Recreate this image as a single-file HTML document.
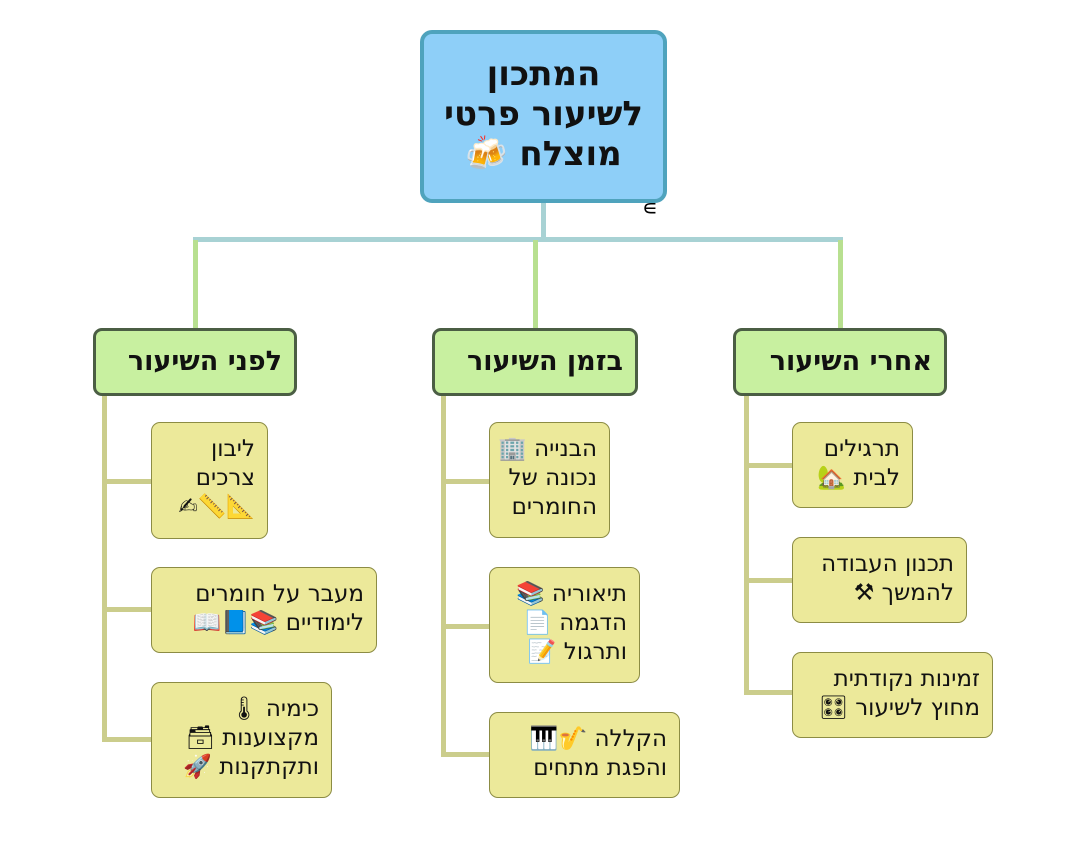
<!DOCTYPE html>
<html><head><meta charset="utf-8"><style>
body{margin:0;width:1080px;height:844px;background:#fff;position:relative;overflow:hidden;font-family:"DejaVu Sans","Liberation Sans",sans-serif}
.b{position:absolute;box-sizing:border-box;direction:rtl;white-space:nowrap}
.root{left:420px;top:30px;width:247px;height:173px;background:#8ecff8;border:4px solid #4fa3bd;border-radius:12px;font-size:34px;font-weight:bold;text-align:center;line-height:40px;padding-top:20px;color:#111}
.l1{top:328px;height:68px;background:#c8f0a0;border:3px solid #4b5e44;border-radius:9px;font-size:27px;font-weight:bold;line-height:62px;text-align:right;padding-right:12px;color:#111}
.c{background:#ece99a;border:1.5px solid #8c8c44;border-radius:9px;font-size:23px;line-height:29px;text-align:right;padding-right:12px;padding-top:12px;color:#111}
.ln{position:absolute}
</style></head><body>
<div class="ln" style="left:541px;top:203px;width:5px;height:38px;background:#a8d2d4"></div>
<div class="ln" style="left:193px;top:237px;width:650px;height:5px;background:#a8d2d4"></div>
<div class="ln" style="left:193px;top:240px;width:5px;height:88px;background:#b8e090"></div>
<div class="ln" style="left:533px;top:240px;width:5px;height:88px;background:#b8e090"></div>
<div class="ln" style="left:838px;top:240px;width:5px;height:88px;background:#b8e090"></div>
<div style="position:absolute;left:642px;top:196px;font-size:22px">&#8714;</div>

<div class="b root">המתכון<br>לשיעור פרטי<br>מוצלח 🍻</div>

<div class="b l1" style="left:93px;width:204px">לפני השיעור</div>
<div class="b l1" style="left:432px;width:206px">בזמן השיעור</div>
<div class="b l1" style="left:733px;width:214px">אחרי השיעור</div>

<div class="ln" style="left:102px;top:396px;width:5px;height:346px;background:#cbcd8c"></div>
<div class="ln" style="left:102px;top:479px;width:49px;height:5px;background:#cbcd8c"></div>
<div class="ln" style="left:102px;top:607px;width:49px;height:5px;background:#cbcd8c"></div>
<div class="ln" style="left:102px;top:737px;width:49px;height:5px;background:#cbcd8c"></div>

<div class="ln" style="left:441px;top:396px;width:5px;height:361px;background:#cbcd8c"></div>
<div class="ln" style="left:441px;top:479px;width:48px;height:5px;background:#cbcd8c"></div>
<div class="ln" style="left:441px;top:624px;width:48px;height:5px;background:#cbcd8c"></div>
<div class="ln" style="left:441px;top:752px;width:48px;height:5px;background:#cbcd8c"></div>

<div class="ln" style="left:744px;top:396px;width:5px;height:299px;background:#cbcd8c"></div>
<div class="ln" style="left:744px;top:463px;width:48px;height:5px;background:#cbcd8c"></div>
<div class="ln" style="left:744px;top:578px;width:48px;height:5px;background:#cbcd8c"></div>
<div class="ln" style="left:744px;top:690px;width:48px;height:5px;background:#cbcd8c"></div>

<div class="b c" style="left:151px;top:422px;width:117px;height:117px">ליבון<br>צרכים<br>📐📏✍</div>
<div class="b c" style="left:151px;top:567px;width:226px;height:86px">מעבר על חומרים<br>לימודיים 📚📘📖</div>
<div class="b c" style="left:151px;top:682px;width:181px;height:116px">כימיה 🌡<br>מקצוענות 🗃<br>ותקתקנות 🚀</div>

<div class="b c" style="left:489px;top:422px;width:121px;height:116px">הבנייה 🏢<br>נכונה של<br>החומרים</div>
<div class="b c" style="left:489px;top:567px;width:151px;height:116px">תיאוריה 📚<br>הדגמה 📄<br>ותרגול 📝</div>
<div class="b c" style="left:489px;top:712px;width:191px;height:86px">הקללה 🎷🎹<br>והפגת מתחים</div>

<div class="b c" style="left:792px;top:422px;width:121px;height:86px">תרגילים<br>לבית 🏡</div>
<div class="b c" style="left:792px;top:537px;width:175px;height:86px">תכנון העבודה<br>להמשך ⚒</div>
<div class="b c" style="left:792px;top:652px;width:201px;height:86px">זמינות נקודתית<br>מחוץ לשיעור 🎛</div>
</body></html>
